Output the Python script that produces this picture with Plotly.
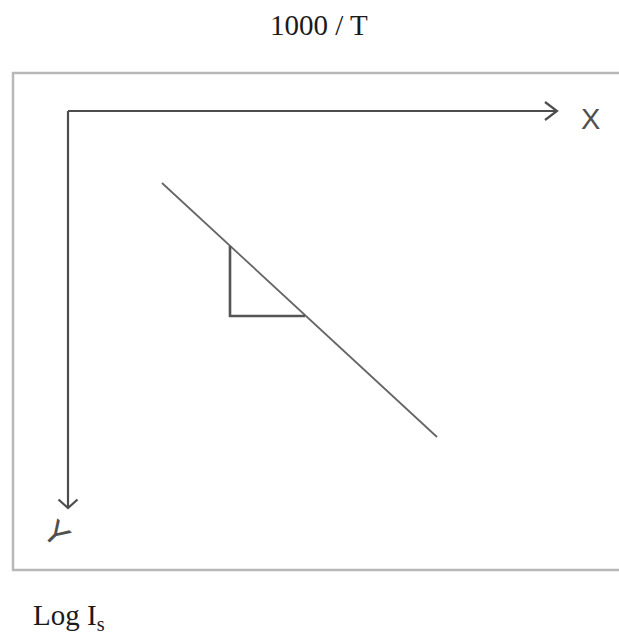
import plotly.graph_objects as go

# ---- data (sketch units: origin at the corner of the drawn axes, y grows downward) ----
x_title = "1000 / T"
y_title = "Log I<sub>s</sub>"
x_axis_label = "X"
y_axis_label = "Y"

line_x = [9.4, 36.9]          # straight line of the plot
line_y = [7.2, 32.6]
tri_x = [16.2, 16.2, 23.7]    # slope triangle
tri_y = [13.5, 20.5, 20.5]
axis_end_x = 48.9             # length of drawn X axis
axis_end_y = 39.7             # length of drawn Y axis
frame_x = [-5.5, 60.0]
frame_y = [-3.8, 45.9]

fig = go.Figure()

AX = "#4d4d4d"
# X axis with open arrow head
fig.add_trace(go.Scatter(x=[0, axis_end_x], y=[0, 0], mode="lines",
                         line=dict(color=AX, width=2.2), hoverinfo="skip"))
fig.add_trace(go.Scatter(x=[axis_end_x - 1.2, axis_end_x, axis_end_x - 1.2],
                         y=[-0.9, 0, 0.9], mode="lines",
                         line=dict(color=AX, width=2.2), hoverinfo="skip"))
# Y axis with open arrow head
fig.add_trace(go.Scatter(x=[0, 0], y=[0, axis_end_y], mode="lines",
                         line=dict(color=AX, width=2.2), hoverinfo="skip"))
fig.add_trace(go.Scatter(x=[-0.95, 0, 0.95],
                         y=[axis_end_y - 0.85, axis_end_y, axis_end_y - 0.85], mode="lines",
                         line=dict(color=AX, width=2.2), hoverinfo="skip"))
# line
fig.add_trace(go.Scatter(x=line_x, y=line_y, mode="lines",
                         line=dict(color="#666666", width=1.8), hoverinfo="skip"))
# triangle
fig.add_trace(go.Scatter(x=tri_x, y=tri_y, mode="lines",
                         line=dict(color="#555555", width=2.6), hoverinfo="skip"))

fig.add_shape(type="rect", x0=frame_x[0], x1=frame_x[1], y0=frame_y[0], y1=frame_y[1],
              line=dict(color="#b8b8b8", width=2.5), layer="below")

fig.add_annotation(x=319 / 619, y=1 - 25 / 640, xref="paper", yref="paper",
                   text=x_title, showarrow=False, xanchor="center", yanchor="middle",
                   font=dict(family="Liberation Serif", size=29, color="#1a1a1a"))
fig.add_annotation(x=31 / 619, y=1 - 617 / 640, xref="paper", yref="paper",
                   text=y_title, showarrow=False, xanchor="left", yanchor="middle",
                   font=dict(family="Liberation Serif", size=29, color="#1a1a1a"))
fig.add_annotation(x=52.2, y=0.8, text=x_axis_label, showarrow=False,
                   xanchor="center", yanchor="middle",
                   font=dict(family="Liberation Sans", size=29, color="#505050"))
fig.add_annotation(x=-1.1, y=42.2, text=y_axis_label, showarrow=False, textangle=45,
                   xanchor="center", yanchor="middle",
                   font=dict(family="Liberation Sans", size=33, color="#505050"))

fig.update_layout(
    width=619, height=640, autosize=False,
    margin=dict(l=0, r=0, t=0, b=0, pad=0),
    paper_bgcolor="white", plot_bgcolor="white",
    showlegend=False,
    xaxis=dict(range=[-6.8, 55.1], visible=False, fixedrange=True),
    yaxis=dict(range=[52.9, -11.1], visible=False, fixedrange=True),
)

fig.write_html("out.html", config={"displayModeBar": False},
               post_script="document.body.style.margin='0';")
